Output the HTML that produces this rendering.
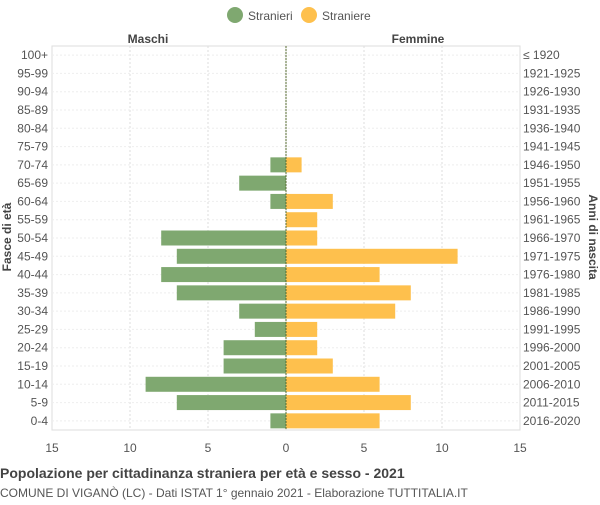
<!DOCTYPE html>
<html><head><meta charset="utf-8"><style>
body{margin:0;background:#fff;font-family:"Liberation Sans",sans-serif}
svg text{font-family:"Liberation Sans",sans-serif}
</style></head><body>
<svg id="chart" width="600" height="500">
<g>
<circle cx="235" cy="15" r="8" fill="#7fa870"/>
<text x="248" y="20" font-size="12" fill="#555">Stranieri</text>
<circle cx="309" cy="15" r="8" fill="#fec04d"/>
<text x="322" y="20" font-size="12" fill="#555">Straniere</text>
</g>
<text x="148" y="43" font-size="12" font-weight="bold" fill="#444" text-anchor="middle">Maschi</text>
<text x="418" y="43" font-size="12" font-weight="bold" fill="#444" text-anchor="middle">Femmine</text>
<g id="grid"></g><g id="bars"></g><g id="labels"></g>
<text transform="translate(11,237) rotate(-90)" font-size="12" font-weight="bold" fill="#444" text-anchor="middle">Fasce di età</text>
<text transform="translate(589,237) rotate(90)" font-size="12" font-weight="bold" fill="#444" text-anchor="middle">Anni di nascita</text>
<text x="0" y="478" font-size="14" font-weight="bold" fill="#444">Popolazione per cittadinanza straniera per età e sesso - 2021</text>
<text x="0" y="497" font-size="12" fill="#555">COMUNE DI VIGANÒ (LC) - Dati ISTAT 1° gennaio 2021 - Elaborazione TUTTITALIA.IT</text>
</svg>
<script>
const ageGroups=["100+","95-99","90-94","85-89","80-84","75-79","70-74","65-69","60-64","55-59","50-54","45-49","40-44","35-39","30-34","25-29","20-24","15-19","10-14","5-9","0-4"];
const birthYears=["≤ 1920","1921-1925","1926-1930","1931-1935","1936-1940","1941-1945","1946-1950","1951-1955","1956-1960","1961-1965","1966-1970","1971-1975","1976-1980","1981-1985","1986-1990","1991-1995","1996-2000","2001-2005","2006-2010","2011-2015","2016-2020"];
const males=[0,0,0,0,0,0,1,3,1,0,8,7,8,7,3,2,4,4,9,7,1];
const females=[0,0,0,0,0,0,1,0,3,2,2,11,6,8,7,2,2,3,6,8,6];
const xTicks=[-15,-10,-5,0,5,10,15];
const NS="http://www.w3.org/2000/svg";
const x0=286,ppu=15.6,topY=46,botY=430,n=ageGroups.length,step=(botY-topY)/n;
const X=v=>x0+v*ppu, Y=i=>topY+step*i+step/2;
function mk(t,a,p){const e=document.createElementNS(NS,t);for(const k in a)e.setAttribute(k,a[k]);p.appendChild(e);return e;}
const g=document.getElementById("grid"),b=document.getElementById("bars"),l=document.getElementById("labels");
for(const t of xTicks){
 const ln=mk("line",{x1:X(t),x2:X(t),y1:topY,y2:botY,stroke:"#ddd","stroke-dasharray":t===0?"":"2,2"},g);
 
 
 const tx=mk("text",{x:X(t),y:452,"font-size":12,fill:"#555","text-anchor":"middle"},l);tx.textContent=Math.abs(t);
 
 
}
const fr=mk("rect",{x:X(-15),y:topY,width:X(15)-X(-15),height:botY-topY,fill:"none",stroke:"#ddd"},g);


ageGroups.forEach((a,i)=>{
 const gl=mk("line",{x1:X(-15),x2:X(15),y1:Y(i),y2:Y(i),stroke:"#eee","stroke-dasharray":"2,2"},g);
 
 
 const bh=15;
 if(males[i]>0){const r=mk("rect",{x:X(-males[i]),y:Y(i)-bh/2,width:X(0)-X(-males[i]),height:bh,fill:"#7fa870"},b);
 
 }
 if(females[i]>0){const r=mk("rect",{x:X(0),y:Y(i)-bh/2,width:X(females[i])-X(0),height:bh,fill:"#fec04d"},b);
 
 }
 const t1=mk("text",{x:48,y:Y(i)+4,"font-size":12,fill:"#555","text-anchor":"end"},l);t1.textContent=a;
 
 
 const t2=mk("text",{x:523,y:Y(i)+4,"font-size":12,fill:"#555"},l);t2.textContent=birthYears[i];
 
 
});
const c=mk("line",{x1:X(0),x2:X(0),y1:topY,y2:botY,stroke:"#556b2f","stroke-dasharray":"2,1"},b);


</script>
</body></html>
